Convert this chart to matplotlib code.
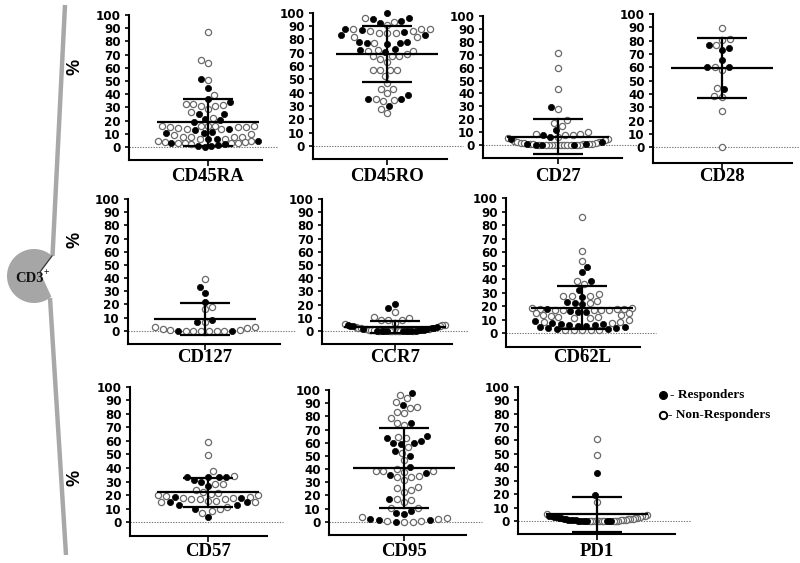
import matplotlib
matplotlib.use("Agg")
import matplotlib.pyplot as plt
import numpy as np
from matplotlib.patches import Polygon

# ---------------- data ----------------
markers = ["CD45RA", "CD45RO", "CD27", "CD28", "CD127", "CCR7", "CD62L", "CD57", "CD95", "PD1"]

cd45ra_resp = [51.8, 44.7, 36.4, 34.0, 25.3, 24.7, 21.5, 20.2, 18.9, 13.9, 12.9, 11.4, 10.9, 10.4,
               6.1, 6.1, 4.8, 3.3, 2.3, 1.3, 0.8, 0.3, 0.8]
cd45ra_non = [86.9, 65.7, 63.4, 50.8, 39.6, 32.8, 32.3, 31.8, 31.0, 31.0, 29.0, 26.5, 22.2, 16.2,
              16.2, 16.2, 16.2, 16.2, 15.0, 15.0, 14.6, 15.0, 13.4, 13.4, 9.6, 8.8, 7.8, 7.3, 7.3,
              7.8, 6.3, 6.3, 4.3, 3.8, 3.3, 3.3, 3.3, 3.8, 4.3, 2.3, 2.8]

cd45ro_resp = [99.5, 95.7, 95.0, 94.0, 92.5, 88.0, 85.7, 87.0, 83.0, 83.0, 78.0, 77.5, 77.0, 78.0,
               76.5, 72.7, 70.7, 72.0, 38.0, 35.0, 35.5, 30.0]
cd45ro_non = [93.0, 95.7, 90.7, 88.0, 87.7, 86.0, 87.7, 84.5, 84.5, 84.5, 86.5, 82.0, 82.0, 77.0,
              72.0, 71.5, 71.5, 69.0, 67.5, 67.5, 67.5, 63.0, 65.0, 57.0, 57.0, 57.0, 57.0, 52.5,
              47.0, 42.5, 42.5, 39.5, 35.0, 34.5, 33.7, 27.5, 24.5]

cd27_resp = [29.7, 11.6, 7.5, 6.5, 4.4, 2.6, 0.8, 0.0, 0.0, 0.3, 0.5]
cd27_non = [71.0, 59.4, 43.2, 28.2, 19.4, 17.3, 14.7, 10.3, 8.8, 8.8, 7.5, 7.5, 6.0, 5.2, 4.5, 3.8,
            3.2, 2.6, 2.2, 1.8, 1.5, 1.2, 1.0, 0.8, 0.6, 0.5, 0.4, 0.3, 0.2, 0.1, 0.0, 0.0, 0.0,
            0.0, 0.0, 0.0, 0.0, 0.0, 0.0]

cd28_resp = [76.7, 74.2, 73.0, 65.5, 60.5, 60.0, 43.5]
cd28_non = [89.2, 81.2, 80.7, 76.7, 60.0, 58.0, 44.7, 38.0, 38.5, 27.2, 0.0]

cd127_resp = [32.9, 28.4, 22.1, 8.4, 6.8, 0.0, 0.0]
cd127_non = [39.2, 17.7, 16.2, 6.8, 2.5, 1.8, 0.8, 0.0, 0.0, 0.0, 0.0, 0.0, 0.0, 0.8, 1.3, 2.5]

ccr7_resp = [20.5, 17.2, 4.5, 4.0, 3.5, 3.0, 2.5, 2.0, 1.5, 1.2, 1.0, 0.8, 0.5, 0.3, 0.2, 0.0,
             0.0, 0.0, 0.0, 0.0, 0.0, 0.0]
ccr7_non = [14.6, 10.6, 9.6, 8.3, 8.3, 8.3, 5.8, 5.3, 4.8, 4.2, 3.6, 3.0, 2.5, 2.0, 1.6, 1.2, 0.9,
            0.6, 0.4, 0.2, 0.1, 0.0, 0.0, 0.0, 0.0, 0.0]

cd62l_resp = [49.4, 45.2, 38.8, 32.3, 27.2, 22.7, 23.0, 21.5, 17.8, 16.5, 15.6, 15.6, 9.0, 6.7,
              6.2, 5.5, 4.9, 3.7, 3.2, 3.2, 3.7, 4.9, 5.5, 6.2, 6.7, 7.4]
cd62l_non = [85.9, 61.0, 53.6, 38.8, 36.5, 29.4, 27.9, 27.9, 27.9, 24.0, 22.2, 19.0, 18.5, 18.0,
             18.0, 17.3, 17.0, 17.0, 17.5, 17.5, 18.0, 15.3, 13.6, 13.0, 12.0, 11.0, 8.6, 10.0,
             11.0, 12.0, 13.6, 14.8, 7.9, 8.6, 2.5, 2.5, 2.2, 2.5, 2.8]

cd57_resp = [33.2, 33.7, 33.7, 31.2, 33.2, 29.5, 26.8, 17.7, 15.2, 15.2, 18.4, 9.6, 12.8, 12.8, 3.9]
cd57_non = [59.5, 49.6, 37.6, 34.0, 28.2, 28.2, 22.1, 20.9, 20.1, 18.9, 17.7, 19.4, 20.4, 21.4,
            23.8, 17.2, 16.0, 17.7, 15.2, 15.2, 15.7, 16.9, 16.9, 8.6, 11.1, 7.1, 9.6]

cd95_resp = [97.5, 88.6, 74.7, 65.0, 61.3, 63.3, 59.0, 60.0, 59.5, 53.7, 50.1, 41.8, 35.4, 36.7,
             17.0, 8.1, 6.3, 1.3, 0.0, 1.3, 2.0, 5.8]
cd95_non = [96.2, 93.7, 91.0, 86.0, 86.8, 82.3, 83.5, 78.5, 73.4, 74.7, 63.3, 64.6, 56.5, 52.4,
            46.8, 38.7, 38.0, 38.7, 38.7, 39.7, 33.7, 31.6, 33.7, 34.7, 26.6, 24.0, 22.8, 25.3,
            17.0, 15.2, 16.5, 10.6, 10.6, 3.8, 2.0, 0.8, 0.0, 0.0, 0.8, 2.5]

pd1_resp = [36.0, 19.4, 4.0, 3.6, 3.2, 2.8, 2.4, 2.0, 1.6, 1.3, 1.0, 0.8, 0.6, 0.4, 0.2, 0.1,
            0.0, 0.0, 0.0, 0.0, 0.0, 0.0]
pd1_non = [60.8, 48.9, 13.9, 5.2, 4.2, 3.8, 3.4, 3.0, 2.6, 2.2, 1.8, 1.5, 1.2, 0.9, 0.7, 0.5,
           0.3, 0.2, 0.1, 0.0, 0.0, 0.0, 0.0, 0.0, 0.0, 0.0]

responders = [cd45ra_resp, cd45ro_resp, cd27_resp, cd28_resp, cd127_resp, ccr7_resp,
              cd62l_resp, cd57_resp, cd95_resp, pd1_resp]
non_responders = [cd45ra_non, cd45ro_non, cd27_non, cd28_non, cd127_non, ccr7_non,
                  cd62l_non, cd57_non, cd95_non, pd1_non]
means = [18.8, 69.0, 6.5, 59.5, 9.0, 3.0, 19.0, 22.0, 40.5, 5.0]
sds = [17.7, 21.0, 13.5, 22.5, 12.0, 4.4, 15.8, 11.0, 30.3, 13.0]
y_ticks = [0, 10, 20, 30, 40, 50, 60, 70, 80, 90, 100]
legend_labels = ["- Responders", "- Non-Responders"]

# ---------------- layout (pixels in an 800x563 canvas) ----------------
W, H = 800, 563
# x_left, x_right, x_center, y_of_100, y_of_0, ymin, label_y
layout = {
    "CD45RA": (129, 262, 208, 15.0, 147.0, -10, 177),
    "CD45RO": (313, 447, 387, 12.7, 146.0, -10, 177),
    "CD27":   (483, 622, 558, 16.0, 145.0, -10, 177),
    "CD28":   (653, 792, 722, 14.0, 147.3, -11.5, 177),
    "CD127":  (128, 280, 205, 199.0, 330.7, -10, 357),
    "CCR7":   (322, 452, 395, 199.0, 331.0, -10, 357),
    "CD62L":  (506, 640, 582, 198.3, 333.3, -10, 357),
    "CD57":   (130, 267, 208, 386.7, 522.3, -10, 551),
    "CD95":   (329, 466, 404, 390.0, 521.7, -10, 551),
    "PD1":    (518, 675, 597, 386.7, 521.0, -10, 551),
}


def spread(vals, unit, gap=7.6, spacing=8.5, row_h=7.0, maxw=50.0, dense=10):
    """Dense value bands are spread in rows (GraphPad style), the rest by a beeswarm."""
    vals = np.asarray(vals, float)
    ypx = vals * unit
    xs = np.zeros(len(vals))
    done = np.zeros(len(vals), bool)
    bins = np.floor(ypx / row_h).astype(int)
    for b in np.unique(bins):
        idx = np.where(bins == b)[0]
        n = len(idx)
        if n < dense:
            continue
        idx = idx[np.argsort(vals[idx], kind="stable")]
        sp = min(spacing, 2 * maxw / (n - 1))
        for k, i in enumerate(idx):
            if n % 2 == 1:
                m = (k + 1) // 2
                pos = 0 if k == 0 else (m if k % 2 == 1 else -m)
            else:
                m = k // 2 + 0.5
                pos = -m if k % 2 == 0 else m
            xs[i] = pos * sp
            done[i] = True
    placed_x = list(xs[done])
    placed_y = list(ypx[done])
    grid = np.linspace(-maxw, maxw, 201)
    rest = np.where(~done)[0]
    rest = rest[np.argsort(vals[rest], kind="stable")]
    for n, i in enumerate(rest):
        y = ypx[i]
        if not placed_x:
            xs[i] = 0.0
            placed_x.append(0.0)
            placed_y.append(y)
            continue
        px = np.array(placed_x)
        py = np.array(placed_y)
        near = np.abs(py - y) < gap
        cands = [0.0]
        for a, bb in zip(px[near], py[near]):
            d = np.sqrt(max(gap ** 2 - (bb - y) ** 2, 0.0))
            cands += [a + d, a - d]
        cands = np.array(cands)
        sgn = 1 if n % 2 == 0 else -1
        cands = cands[np.argsort(np.abs(cands) - 1e-6 * sgn * np.sign(cands))]
        chosen = None
        for c in cands:
            if abs(c) > maxw + 1e-9:
                continue
            dist = np.sqrt((px - c) ** 2 + (py - y) ** 2)
            if np.all(dist >= gap - 1e-6):
                chosen = c
                break
        if chosen is None:
            md = np.array([np.min(np.sqrt((px - g) ** 2 + (py - y) ** 2)) for g in grid])
            ok = grid[md >= md.max() - 1e-6]
            chosen = ok[np.argmin(np.abs(ok))]
        xs[i] = chosen
        placed_x.append(chosen)
        placed_y.append(y)
    return xs


fig = plt.figure(figsize=(W / 100, H / 100), dpi=100)

# background decoration axes (pixel coordinates)
bg = fig.add_axes([0, 0, 1, 1], zorder=0)
bg.set_xlim(0, W)
bg.set_ylim(H, 0)
bg.axis("off")
grey = "#a8a8a8"
cx, cy, r = 34, 276, 27
t = np.radians(np.linspace(48, 310, 80))
pts = np.column_stack([cx + r * np.cos(t), cy - r * np.sin(t)])
pts = np.vstack([pts, [[40, 272]]])
bg.add_patch(Polygon(pts, closed=True, facecolor="#a6a6a6", edgecolor="none"))
bg.plot([65, 52.5], [5, 256], color=grey, lw=3.2, solid_capstyle="butt")
bg.plot([50, 66], [298, 555], color=grey, lw=3.2, solid_capstyle="butt")
bg.plot([52, 40], [256, 272], color="#333333", lw=0.9)
bg.text(29, 279, "CD3", ha="center", va="center", fontsize=10.5, fontweight="bold",
        family="Liberation Serif", color="#111111")
bg.text(46.5, 272, "+", ha="center", va="center", fontsize=7, fontweight="bold",
        family="Liberation Serif", color="#111111")
for yy in (67, 240, 478):
    bg.text(75, yy, "%", rotation=90, ha="center", va="center", fontsize=13,
            fontweight="bold", family="Liberation Sans")

# legend
bg.scatter([663], [395], s=32, facecolor="black", edgecolor="black", lw=0.8)
bg.scatter([663], [415], s=28, facecolor="white", edgecolor="black", lw=1.4)
bg.text(670, 395, legend_labels[0], ha="left", va="center", fontsize=9.5,
        fontweight="bold", family="Liberation Serif")
bg.text(668, 415, legend_labels[1], ha="left", va="center", fontsize=9.5,
        fontweight="bold", family="Liberation Serif")

for name, resp, non, mu, sd in zip(markers, responders, non_responders, means, sds):
    xl, xr, xc, y100, y0, ymin, ly = layout[name]
    unit = (y0 - y100) / 100.0
    bot = y0 - ymin * unit
    ax = fig.add_axes([xl / W, 1 - bot / H, (xr - xl) / W, (bot - y100) / H], zorder=2)
    ax.patch.set_alpha(0)
    ax.set_xlim(xl - xc, xr - xc)
    ax.set_ylim(ymin, 100)

    vals = np.array(list(non) + list(resp), float)
    grp = np.array([0] * len(non) + [1] * len(resp))
    xo = spread(vals, unit)

    ax.plot([xl - xc, xr - xc + 16], [0, 0], ls=(0, (1.2, 1.2)), color="#777777",
            lw=0.8, zorder=1, clip_on=False)
    m0 = grp == 0
    ax.scatter(xo[m0], vals[m0], s=20, facecolor="white", edgecolor="#6a6a6a",
               lw=0.9, zorder=3, clip_on=False)
    m1 = grp == 1
    ax.scatter(xo[m1], vals[m1], s=20, facecolor="black", edgecolor="black",
               lw=0.5, zorder=3.5, clip_on=False)

    ax.plot([-51, 51], [mu, mu], color="black", lw=1.6, zorder=4, solid_capstyle="butt")
    ax.plot([-25, 25], [mu + sd, mu + sd], color="black", lw=1.6, zorder=4, solid_capstyle="butt")
    ax.plot([-25, 25], [mu - sd, mu - sd], color="black", lw=1.6, zorder=4, solid_capstyle="butt")
    ax.plot([0, 0], [mu - sd, mu + sd], color="black", lw=1.6, zorder=4)

    for s in ("top", "right"):
        ax.spines[s].set_visible(False)
    for s in ("left", "bottom"):
        ax.spines[s].set_linewidth(1.5)
    ax.set_yticks(y_ticks)
    ax.set_yticklabels([str(v) for v in y_ticks])
    ax.set_xticks([0])
    ax.set_xticklabels([""])
    ax.tick_params(axis="y", length=3, width=1.2, pad=3.0, labelsize=8.6)
    ax.tick_params(axis="x", length=4, width=1.2)
    for lbl in ax.get_yticklabels():
        lbl.set_fontweight("bold")
        lbl.set_family("DejaVu Sans")

    fig.text(xc / W, 1 - ly / H, name, ha="center", va="center", fontsize=13.5,
             fontweight="bold", family="Liberation Serif")

fig.savefig("out.png", dpi=100)
